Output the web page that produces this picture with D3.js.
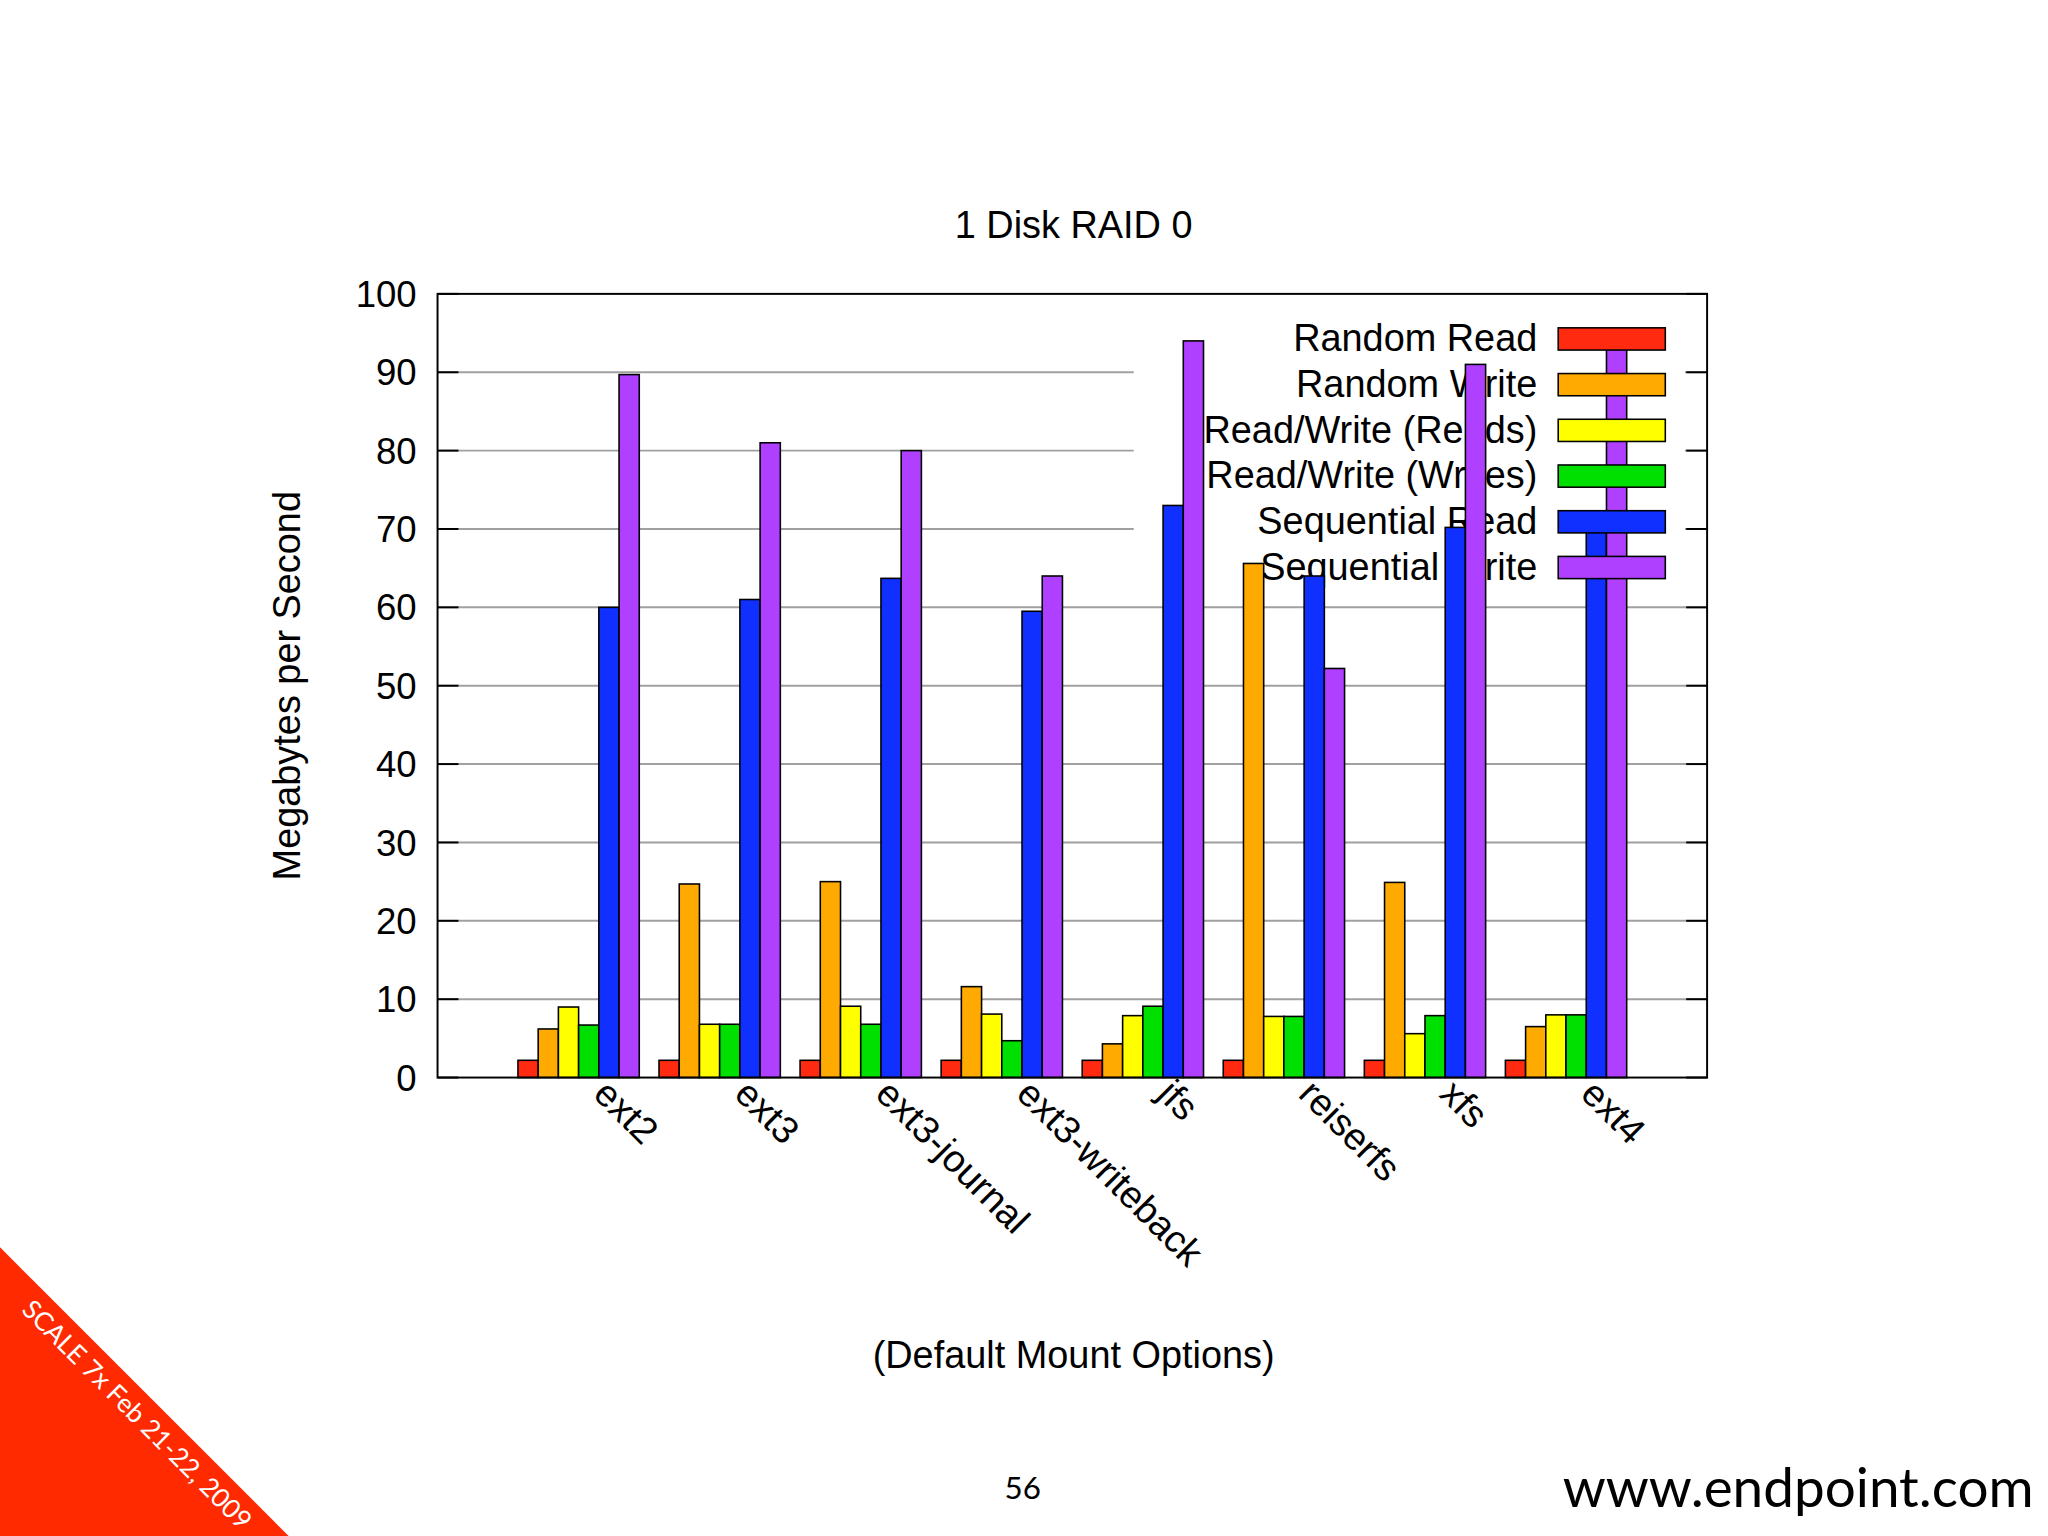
<!DOCTYPE html>
<html><head><meta charset="utf-8">
<script src="https://cdn.jsdelivr.net/npm/d3@7"></script>
<style>body{margin:0;background:#fff}</style>
</head><body>
<script>
const categories = ['ext2','ext3','ext3-journal','ext3-writeback','jfs','reiserfs','xfs','ext4'];
const seriesNames = ['Random Read','Random Write','Read/Write (Reads)','Read/Write (Writes)','Sequential Read','Sequential Write'];
const seriesColors = ['#ff2a10','#ffaa00','#ffff00','#00e000','#1030ff','#b040ff'];
const randomRead  = [2.2, 2.2, 2.2, 2.2, 2.2, 2.2, 2.2, 2.2];
const randomWrite = [6.2, 24.7, 25, 11.6, 4.3, 65.6, 24.9, 6.5];
const rwReads     = [9, 6.8, 9.1, 8.1, 7.9, 7.8, 5.6, 8];
const rwWrites    = [6.7, 6.8, 6.8, 4.7, 9.1, 7.8, 7.9, 8];
const seqRead     = [60, 61, 63.7, 59.5, 73, 64, 70.2, 71.2];
const seqWrite    = [89.7, 81, 80, 64, 94, 52.2, 91, 93];
const series = [randomRead, randomWrite, rwReads, rwWrites, seqRead, seqWrite];
const yTicks = [0,10,20,30,40,50,60,70,80,90,100];

const svg = d3.select('body').append('svg')
  .attr('width', 2048).attr('height', 1536)
  .attr('viewBox', '0 0 1568 1176');
const font = 'Liberation Sans, Arial, sans-serif';
const plotL = 335, plotR = 1307, plotT = 225, plotB = 825;

const x = d3.scaleLinear().domain([0, 9]).range([plotL, plotR]);
const y = d3.scaleLinear().domain([0, 100]).range([plotB, plotT]);
const groupW = 0.86, barW = groupW / 6;

// grid
svg.append('g').selectAll('line').data(yTicks.slice(1, -1)).join('line')
  .attr('x1', plotL).attr('x2', plotR)
  .attr('y1', d => y(d)).attr('y2', d => y(d))
  .attr('stroke', '#a0a0a0').attr('stroke-width', 1.5);

// legend background + text
const legX = 1177, legY0 = 259, legStep = 35;
svg.append('rect').attr('x', 868).attr('y', 240).attr('width', 422).attr('height', 212).attr('fill', '#fff');
svg.append('g').selectAll('text').data(seriesNames).join('text')
  .attr('x', legX).attr('y', (d, i) => legY0 + i * legStep + 10)
  .attr('text-anchor', 'end').attr('font-family', font).attr('font-size', 29)
  .text(d => d);

// bars
series.forEach((vals, s) => {
  svg.append('g').selectAll('rect').data(vals).join('rect')
    .attr('x', (d, i) => x(i + 1 - groupW / 2 + s * barW))
    .attr('width', x(barW) - x(0))
    .attr('y', d => y(d))
    .attr('height', d => plotB - y(d))
    .attr('fill', seriesColors[s]).attr('stroke', '#000').attr('stroke-width', 1.2);
});

// legend keys
svg.append('g').selectAll('rect').data(seriesColors).join('rect')
  .attr('x', 1193).attr('y', (d, i) => legY0 + i * legStep - 8)
  .attr('width', 82).attr('height', 17)
  .attr('fill', d => d).attr('stroke', '#000').attr('stroke-width', 1.2);

// frame + ticks
svg.append('rect').attr('x', plotL).attr('y', plotT).attr('width', plotR - plotL).attr('height', plotB - plotT)
  .attr('fill', 'none').attr('stroke', '#000').attr('stroke-width', 1.5);
const tg = svg.append('g');
tg.selectAll('.tl').data(yTicks).join('line').attr('class','tl')
  .attr('x1', plotL).attr('x2', plotL + 16).attr('y1', d => y(d)).attr('y2', d => y(d)).attr('stroke', '#000').attr('stroke-width', 1.5);
tg.selectAll('.tr').data(yTicks).join('line').attr('class','tr')
  .attr('x1', plotR - 16).attr('x2', plotR).attr('y1', d => y(d)).attr('y2', d => y(d)).attr('stroke', '#000').attr('stroke-width', 1.5);
tg.selectAll('text').data(yTicks).join('text')
  .attr('x', plotL - 16).attr('y', d => y(d) + 10)
  .attr('text-anchor', 'end').attr('font-family', font).attr('font-size', 28).text(d => d);

// x labels
svg.append('g').selectAll('text').data(categories).join('text')
  .attr('transform', (d, i) => `translate(${x(i + 1) + 10},${plotB + 14}) rotate(45)`)
  .attr('font-family', font).attr('font-size', 29).text(d => d);

// titles
svg.append('text').attr('x', 822).attr('y', 182).attr('text-anchor', 'middle')
  .attr('font-family', font).attr('font-size', 29).text('1 Disk RAID 0');
svg.append('text').attr('transform', 'translate(230,525) rotate(-90)').attr('text-anchor', 'middle')
  .attr('font-family', font).attr('font-size', 29).text('Megabytes per Second');
svg.append('text').attr('x', 822).attr('y', 1047).attr('text-anchor', 'middle')
  .attr('font-family', font).attr('font-size', 29).text('(Default Mount Options)');

// slide footer
svg.append('text').attr('x', 783).attr('y', 1148).attr('text-anchor', 'middle')
  .attr('font-family', 'Lato, sans-serif').attr('font-size', 24).text('56');
svg.append('text').attr('x', 1557).attr('y', 1154).attr('text-anchor', 'end')
  .attr('font-family', 'Lato, sans-serif').attr('font-size', 42).text('www.endpoint.com');
svg.append('path').attr('d', 'M0,955 L221,1176 L0,1176 Z').attr('fill', '#ff2a00');
svg.append('text').attr('transform', 'translate(100,1088) rotate(45)').attr('text-anchor', 'middle')
  .attr('font-family', 'Lato, sans-serif').attr('font-size', 20).attr('fill', '#fff')
  .text('SCALE 7x Feb 21-22, 2009');
</script>
</body></html>
